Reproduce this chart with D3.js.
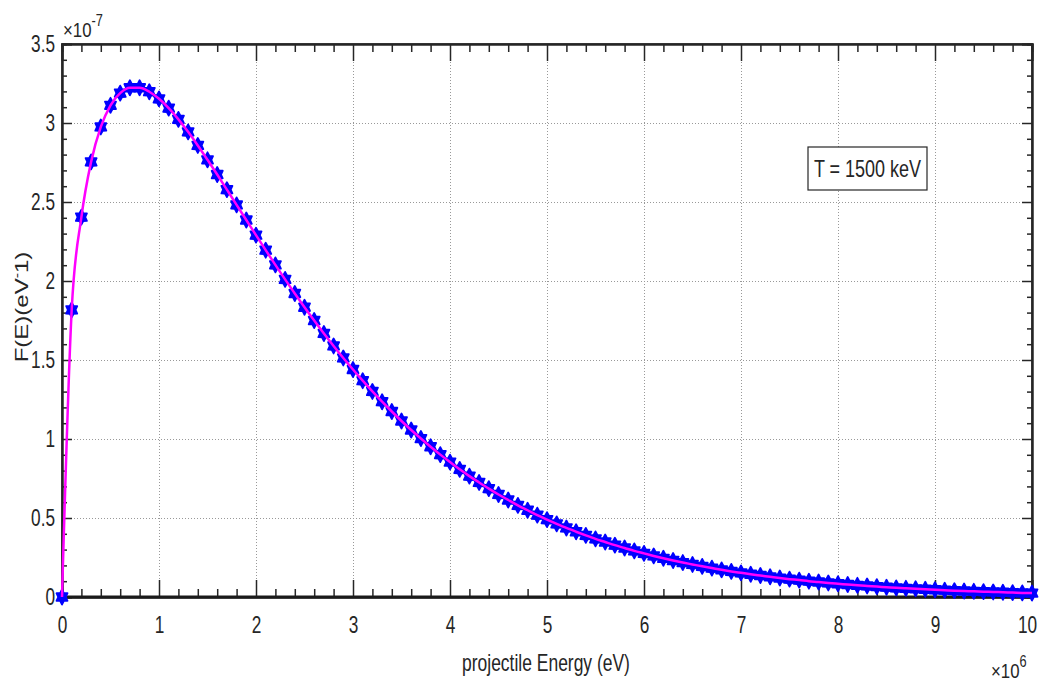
<!DOCTYPE html>
<html>
<head>
<meta charset="utf-8">
<script src="https://cdn.jsdelivr.net/npm/d3@7"></script>
<style>
  body { margin: 0; background: #fff; }
  text { font-family: "Liberation Sans", Arial, sans-serif; fill: #262626; }
</style>
</head>
<body>
<div id="chart"></div>
<script>
// energy in units of 1e6 eV
var energy = [0, 0.1, 0.2, 0.3, 0.4, 0.5, 0.6, 0.7, 0.8, 0.9,
  1, 1.1, 1.2, 1.3, 1.4, 1.5, 1.6, 1.7, 1.8, 1.9,
  2, 2.1, 2.2, 2.3, 2.4, 2.5, 2.6, 2.7, 2.8, 2.9,
  3, 3.1, 3.2, 3.3, 3.4, 3.5, 3.6, 3.7, 3.8, 3.9,
  4, 4.1, 4.2, 4.3, 4.4, 4.5, 4.6, 4.7, 4.8, 4.9,
  5, 5.1, 5.2, 5.3, 5.4, 5.5, 5.6, 5.7, 5.8, 5.9,
  6, 6.1, 6.2, 6.3, 6.4, 6.5, 6.6, 6.7, 6.8, 6.9,
  7, 7.1, 7.2, 7.3, 7.4, 7.5, 7.6, 7.7, 7.8, 7.9,
  8, 8.1, 8.2, 8.3, 8.4, 8.5, 8.6, 8.7, 8.8, 8.9,
  9, 9.1, 9.2, 9.3, 9.4, 9.5, 9.6, 9.7, 9.8, 9.9, 10];

// F(E) in units of 1e-7 eV^-1
var fe = [0, 1.817, 2.404, 2.754, 2.975, 3.112, 3.189, 3.223, 3.223, 3.198,
  3.153, 3.094, 3.023, 2.944, 2.858, 2.767, 2.674, 2.578, 2.482, 2.386,
  2.290, 2.195, 2.102, 2.010, 1.921, 1.834, 1.750, 1.668, 1.589, 1.513,
  1.440, 1.369, 1.301, 1.236, 1.174, 1.114, 1.057, 1.003, 0.951, 0.901,
  0.854, 0.808, 0.765, 0.725, 0.686, 0.649, 0.614, 0.580, 0.549, 0.518,
  0.490, 0.463, 0.437, 0.413, 0.390, 0.368, 0.348, 0.328, 0.310, 0.292,
  0.276, 0.260, 0.245, 0.231, 0.218, 0.206, 0.194, 0.183, 0.172, 0.162,
  0.153, 0.144, 0.136, 0.128, 0.120, 0.113, 0.107, 0.100, 0.095, 0.089,
  0.084, 0.079, 0.074, 0.070, 0.066, 0.062, 0.058, 0.055, 0.052, 0.049,
  0.046, 0.043, 0.040, 0.038, 0.036, 0.034, 0.032, 0.030, 0.028, 0.026, 0.025];

var xTicks = [0, 1, 2, 3, 4, 5, 6, 7, 8, 9, 10];
var yTicks = [0, 0.5, 1, 1.5, 2, 2.5, 3, 3.5];
var legendText = "T = 1500 keV";

function formatData(arr1, arr2) {
  var arr = [];
  for (var i = 0; i < arr1.length; i++) {
    arr.push([arr1[i], arr2[i]]);
  }
  return arr;
}

// six point star (MATLAB 'h' marker)
function hexagram(r) {
  var p = "";
  for (var i = 0; i < 12; i++) {
    var a = Math.PI / 6 * i - Math.PI / 2;
    var rr = (i % 2 == 0) ? r : r * 0.6;
    p += (i == 0 ? "M" : "L") + (rr * Math.cos(a) * 0.85).toFixed(2) + "," + (rr * Math.sin(a)).toFixed(2);
  }
  return p + "Z";
}

// the reference text is narrow, squeeze it sideways
var sx = 0.75;
function squeeze(sel, s) {
  sel.each(function() {
    var t = d3.select(this);
    var xv = +(t.attr("x") || 0);
    t.attr("x", xv / s).attr("transform", "scale(" + s + ",1)");
  });
}

var data = formatData(energy, fe);

var margin = {top: 44, left: 62},
  width = 970,
  height = 553;

var x = d3.scaleLinear().domain([0, 10]).range([0, width]);
var y = d3.scaleLinear().domain([0, 3.5]).range([height, 0]);

var svg = d3.select("#chart").append("svg")
    .attr("width", 1040)
    .attr("height", 682)
    .style("background", "#fff")
  .append("g")
    .attr("transform", "translate(" + margin.left + "," + margin.top + ")");

// grid lines
svg.append("g")
  .call(d3.axisBottom(x).tickValues(xTicks).tickSize(height).tickFormat(""))
  .call(function(g) { g.select(".domain").remove(); })
  .selectAll("line")
    .attr("stroke", "#999")
    .attr("stroke-dasharray", "1,2");

svg.append("g")
  .call(d3.axisLeft(y).tickValues(yTicks).tickSize(-width).tickFormat(""))
  .call(function(g) { g.select(".domain").remove(); })
  .selectAll("line")
    .attr("stroke", "#999")
    .attr("stroke-dasharray", "1,2");

// minor tick values
var xMinor = d3.range(0, 10.01, 0.2).filter(function(d) { return Math.abs(d - Math.round(d)) > 0.01; });
var yMinor = d3.range(0, 3.51, 0.1).filter(function(d) { return Math.abs(d * 2 - Math.round(d * 2)) > 0.01; });

var ticks = svg.append("g").attr("class", "ticks");

// x axis (bottom) with ticks pointing in
var xAxis = ticks.append("g")
  .attr("transform", "translate(0," + height + ")")
  .call(d3.axisBottom(x).tickValues(xTicks).tickSize(-17).tickPadding(20).tickFormat(d3.format("d")));
xAxis.selectAll("text").style("font-size", "23px").attr("fill", "#262626").call(squeeze, sx);
// keep the last label inside the page
xAxis.selectAll("text").filter(function(d) { return d == 10; }).attr("dx", -5 / sx);

ticks.append("g")
  .attr("transform", "translate(0," + height + ")")
  .call(d3.axisBottom(x).tickValues(xMinor).tickSize(-8).tickFormat(""));

// top ticks
ticks.append("g")
  .call(d3.axisTop(x).tickValues(xTicks).tickSize(-17).tickFormat(""));
ticks.append("g")
  .call(d3.axisTop(x).tickValues(xMinor).tickSize(-8).tickFormat(""));

// y axis (left)
var yAxis = ticks.append("g")
  .call(d3.axisLeft(y).tickValues(yTicks).tickSize(-10).tickPadding(7).tickFormat(function(d) { return d; }));
yAxis.selectAll("text").style("font-size", "23px").attr("fill", "#262626").call(squeeze, sx);

ticks.append("g")
  .call(d3.axisLeft(y).tickValues(yMinor).tickSize(-5).tickFormat(""));

// right ticks
ticks.append("g")
  .attr("transform", "translate(" + width + ",0)")
  .call(d3.axisRight(y).tickValues(yTicks).tickSize(-10).tickFormat(""));
ticks.append("g")
  .attr("transform", "translate(" + width + ",0)")
  .call(d3.axisRight(y).tickValues(yMinor).tickSize(-5).tickFormat(""));

ticks.selectAll(".tick line")
  .attr("stroke", "#262626")
  .attr("stroke-width", 1.5);
ticks.selectAll(".domain").attr("stroke", "#262626").attr("stroke-width", 2);

// frame
svg.append("rect")
  .attr("width", width)
  .attr("height", height)
  .attr("fill", "none")
  .attr("stroke", "#262626")
  .attr("stroke-width", 1.5);
svg.append("line")
  .attr("x1", 0).attr("x2", width)
  .attr("y1", height).attr("y2", height)
  .attr("stroke", "#1a1a1a")
  .attr("stroke-width", 3);

// markers
svg.selectAll(".mark")
  .data(data)
  .enter().append("path")
    .attr("class", "mark")
    .attr("d", hexagram(7.5))
    .attr("transform", function(d) { return "translate(" + x(d[0]) + "," + y(d[1]) + ")"; })
    .attr("fill", "#0000ff")
    .attr("stroke", "#0000ff")
    .attr("stroke-width", 1.8)
    .attr("stroke-linejoin", "round");

// line
var line = d3.line()
  .x(function(d) { return x(d[0]); })
  .y(function(d) { return y(d[1]); })
  .curve(d3.curveMonotoneX);

svg.append("path")
  .datum(data)
  .attr("fill", "none")
  .attr("stroke", "#ff00ff")
  .attr("stroke-width", 2.5)
  .attr("d", line);

// legend box
var lg = svg.append("g").attr("transform", "translate(" + (808 - margin.left) + "," + (147 - margin.top) + ")");
lg.append("rect")
  .attr("width", 119)
  .attr("height", 43)
  .attr("fill", "#fff")
  .attr("stroke", "#262626")
  .attr("stroke-width", 1.2);
lg.append("text")
  .attr("x", 59.5)
  .attr("y", 30)
  .attr("text-anchor", "middle")
  .style("font-size", "24px")
  .attr("fill", "#000")
  .text(legendText)
  .call(squeeze, sx);

// axis labels
svg.append("text")
  .attr("x", 546 - margin.left)
  .attr("y", 671 - margin.top)
  .attr("text-anchor", "middle")
  .style("font-size", "23px")
  .text("projectile Energy (eV)")
  .call(squeeze, 0.76);

var yl = svg.append("text")
  .attr("transform", "translate(" + (28 - margin.left) + "," + (307 - margin.top) + ")rotate(-90)scale(1," + sx + ")")
  .attr("text-anchor", "middle")
  .style("font-size", "24px");
yl.append("tspan").text("F(E)(eV");
yl.append("tspan").attr("dy", -9).style("font-size", "16px").text("-");
yl.append("tspan").attr("dy", 9).text("1)");

// exponent labels
var ey = svg.append("text")
  .attr("x", 1)
  .attr("y", 37 - margin.top)
  .style("font-size", "21px");
ey.append("tspan").text("\u00d710");
ey.append("tspan").attr("dy", -11).style("font-size", "16px").text("-7");
ey.call(squeeze, 0.8);

var ex = svg.append("text")
  .attr("x", 991 - margin.left)
  .attr("y", 678 - margin.top)
  .style("font-size", "21px");
ex.append("tspan").text("\u00d710");
ex.append("tspan").attr("dy", -11).style("font-size", "16px").text("6");
ex.call(squeeze, 0.8);
</script>
</body>
</html>
